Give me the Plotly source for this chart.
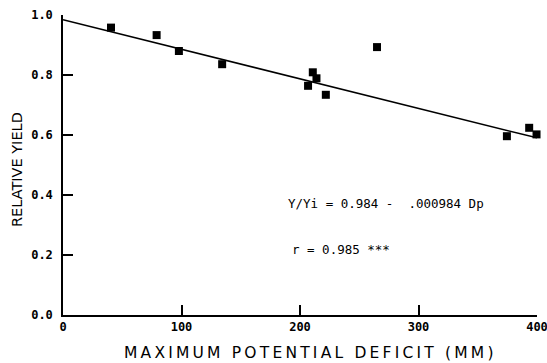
import plotly.graph_objects as go

# Data
deficit_mm = [40.5, 79, 97.8, 134.3, 206.8, 210.8, 213.9, 221.8, 265, 374.6, 393.4, 399.6]
relative_yield = [0.958, 0.933, 0.880, 0.836, 0.764, 0.809, 0.789, 0.734, 0.893, 0.596, 0.624, 0.602]
intercept = 0.984
slope = -0.000984
line_x = [0, 400]
x_ticks = [0, 100, 200, 300, 400]
y_ticks = [0.0, 0.2, 0.4, 0.6, 0.8, 1.0]
x_title = "MAXIMUM POTENTIAL DEFICIT (MM)"
y_title = "RELATIVE YIELD"
eq_text = "Y/Yi = 0.984 -  .000984 Dp"
r_text = "r = 0.985 ***"

line_y = [intercept + slope * v for v in line_x]

mono = "DejaVu Sans Mono"

L, R, T, B = 63, 10, 15, 48
W, H = 547, 363
pw, ph = W - L - R, H - T - B

def px(x):
    return (x - L) / pw

def py(y):
    return 1 - (y - T) / ph

fig = go.Figure()
fig.add_trace(go.Scatter(x=line_x, y=line_y, mode="lines",
                         line=dict(color="black", width=1.5), showlegend=False,
                         cliponaxis=False, hoverinfo="skip"))
fig.add_trace(go.Scatter(x=deficit_mm, y=relative_yield, mode="markers",
                         marker=dict(symbol="square", size=8, color="black"),
                         showlegend=False, cliponaxis=False))

fig.add_annotation(x=px(286), y=py(203), xref="paper", yref="paper",
                   text=eq_text, showarrow=False, xanchor="left", yanchor="middle",
                   font=dict(family=mono, size=12.5, color="black"))
fig.add_annotation(x=px(290), y=py(249), xref="paper", yref="paper",
                   text=r_text, showarrow=False, xanchor="left", yanchor="middle",
                   font=dict(family=mono, size=12.5, color="black"))
fig.add_annotation(x=px(310), y=py(353), xref="paper", yref="paper",
                   text='<span style="letter-spacing:3.2px">' + x_title + '</span>',
                   showarrow=False, xanchor="center", yanchor="middle",
                   font=dict(family="DejaVu Sans", size=15.5, color="black"))
fig.add_annotation(x=px(17), y=py(170), xref="paper", yref="paper",
                   text=y_title, textangle=-90,
                   showarrow=False, xanchor="center", yanchor="middle",
                   font=dict(family="DejaVu Sans", size=14.5, color="black"))

fig.update_layout(
    width=W, height=H,
    margin=dict(l=L, r=R, t=T, b=B, pad=0, autoexpand=False),
    plot_bgcolor="white", paper_bgcolor="white",
    font=dict(family=mono, color="black"),
    xaxis=dict(range=[0, 400], tickvals=x_ticks, ticks="inside", ticklen=10,
               tickwidth=1.5, tickcolor="black", showline=True, linecolor="black",
               linewidth=1.5, showgrid=False, zeroline=False, automargin=False,
               ticklabeloverflow="allow",
               tickfont=dict(family=mono, size=12, color="black", weight="bold")),
    yaxis=dict(range=[0, 1.0], tickvals=y_ticks, tickformat=".1f", ticks="inside",
               ticklen=10, tickwidth=1.5, tickcolor="black", showline=True,
               linecolor="black", linewidth=1.5, showgrid=False, zeroline=False,
               automargin=False, ticklabeloverflow="allow",
               tickfont=dict(family=mono, size=12, color="black", weight="bold"),
               ticklabelstandoff=6),
)

fig.write_html("out.html", config={"displayModeBar": False},
               post_script="document.body.style.margin='0';document.body.style.overflow='hidden';")
